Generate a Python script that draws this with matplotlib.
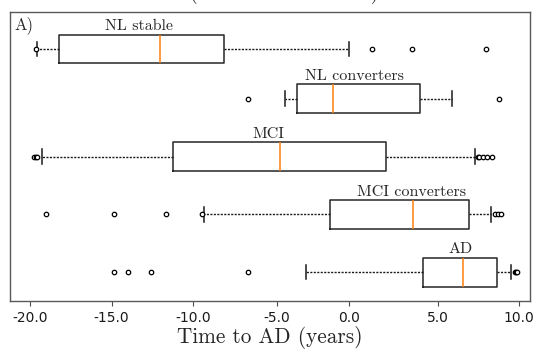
import matplotlib.pyplot as plt

# groups, top to bottom
groups = ["NL stable", "NL converters", "MCI", "MCI converters", "AD"]
positions = [4.86, 4, 3, 2, 1]

# box statistics (years to AD)
q1 = [-18.2, -3.64, -11.2, -1.61, 4.09]
med = [-12.02, -1.39, -4.64, 3.52, 6.58]
q3 = [-8.08, 3.93, 1.86, 6.93, 8.67]
whislo = [-19.55, -4.36, -19.24, -9.31, -3.09]
whishi = [-0.45, 5.91, 7.30, 8.30, 9.49]
fliers = [[-19.63, 0.96, 3.45, 7.96],
          [-6.64, 8.79],
          [-19.75, -19.65, -19.55, 7.45, 7.55, 7.8, 8.05, 8.35],
          [-19.0, -14.83, -11.67, -9.47, 8.5, 8.7, 8.9],
          [-14.83, -14.0, -12.58, -6.64, 9.75, 9.82, 9.88]]
label_x = [-13.3, -0.12, -5.4, 3.43, 6.38]

tick_pos = [-20, -15, -10, -4.85, -0.43, 5.03, 10]
tick_labels = ["-20.0", "-15.0", "-10.0", "-5.0", "0.0", "5.0", "10.0"]

serif = "cmr10"

fig = plt.figure(figsize=(5.39, 3.51), dpi=100)
ax = fig.add_axes([10 / 539, 1 - 301 / 351, 520 / 539, 289 / 351])

stats = []
for i in range(len(groups)):
    stats.append(dict(label=groups[i], q1=q1[i], med=med[i], q3=q3[i],
                      whislo=whislo[i], whishi=whishi[i], fliers=fliers[i]))

ax.bxp(stats, positions=positions, vert=False, widths=0.5,
       boxprops=dict(color="0.15", linewidth=1.1),
       medianprops=dict(color="#ff7f0e", linewidth=1.1),
       whiskerprops=dict(color="0.1", linewidth=1.0, linestyle=(0, (1.5, 1))),
       capprops=dict(color="0.1", linewidth=1.1),
       flierprops=dict(marker="o", markersize=3.2, markerfacecolor="white",
                       markeredgecolor="black", markeredgewidth=0.9))

# group names above each box
for name, x, y in zip(groups, label_x, positions):
    ax.text(x, y + 0.27, name, ha="center", va="bottom",
            fontsize=11.5, family=serif, color="0.15")

ax.text(0.008, 0.985, "A)", transform=ax.transAxes, ha="left", va="top",
        fontsize=12, family=serif, color="0.15")

ax.set_xlim(-21.23, 10.67)
ax.set_ylim(0.5, 5.5)
ax.set_yticks([])
ax.set_xticks(tick_pos)
ax.set_xticklabels(tick_labels, fontsize=10, color="0.1")
ax.tick_params(axis="x", length=3.5, color="0.3")
for s in ax.spines.values():
    s.set_color("0.35")
    s.set_linewidth(1.0)

ax.set_xlabel("Time to AD (years)", fontsize=15.3, family=serif, color="0.15",
              labelpad=1)

# title sits mostly above the canvas, only its bottom edge shows
fig.text(284 / 539, 1 + 1.5 / 351, "(relative to AD onset)", ha="center",
         va="baseline", fontsize=14, family=serif, color="0.15")

fig.savefig("out.png", dpi=100)
